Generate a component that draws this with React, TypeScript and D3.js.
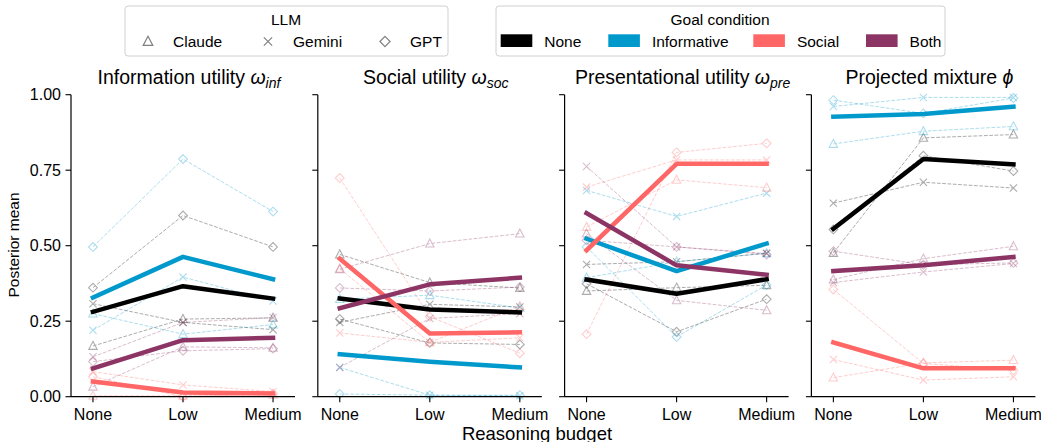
import React from "react";
import * as d3 from "d3";

const budgets = ["None", "Low", "Medium"];
const llms = ["Claude", "Gemini", "GPT"];
const goals = ["None", "Informative", "Social", "Both"];
const goalColors = ["#000000", "#0099cc", "#ff6666", "#8c3565"];
const yTicks = [0, 0.25, 0.5, 0.75, 1.0];

// rows: Claude, Gemini, GPT ; columns: None, Low, Medium budget
const infNone = [[0.168, 0.257, 0.261], [0.308, 0.246, 0.222], [0.361, 0.6, 0.496]];
const infInformative = [[0.275, 0.207, 0.239], [0.22, 0.396, 0.317], [0.496, 0.787, 0.613]];
const infSocial = [[0.003, 0.003, 0.006], [0.083, 0.039, 0.017], [0.066, 0.0, 0.01]];
const infBoth = [[0.033, 0.165, 0.162], [0.132, 0.246, 0.262], [0.116, 0.152, 0.159]];
const infMean = [[0.281, 0.366, 0.325], [0.328, 0.463, 0.389], [0.05, 0.014, 0.011], [0.094, 0.187, 0.195]];

const socNone = [[0.471, 0.378, 0.36], [0.246, 0.306, 0.297], [0.257, 0.178, 0.173]];
const socInformative = [[0.323, 0.336, 0.294], [0.097, 0.005, 0.003], [0.009, 0.005, 0.005]];
const socSocial = [[0.424, 0.18, 0.3], [0.211, 0.18, 0.195], [0.724, 0.265, 0.144]];
const socBoth = [[0.422, 0.507, 0.54], [0.097, 0.259, 0.275], [0.36, 0.35, 0.363]];
const socMean = [[0.325, 0.289, 0.279], [0.141, 0.116, 0.097], [0.457, 0.209, 0.213], [0.293, 0.372, 0.394]];

const preNone = [[0.35, 0.361, 0.369], [0.438, 0.447, 0.475], [0.374, 0.215, 0.323]];
const preInformative = [[0.394, 0.447, 0.475], [0.683, 0.597, 0.674], [0.496, 0.198, 0.37]];
const preSocial = [[0.562, 0.718, 0.692], [0.694, 0.784, 0.784], [0.207, 0.809, 0.839]];
const preBoth = [[0.54, 0.319, 0.286], [0.762, 0.496, 0.474], [0.518, 0.496, 0.471]];
const preMean = [[0.388, 0.341, 0.389], [0.523, 0.416, 0.507], [0.485, 0.771, 0.771], [0.608, 0.435, 0.404]];

const mixNone = [[0.476, 0.857, 0.868], [0.641, 0.71, 0.691], [0.554, 0.798, 0.747]];
const mixInformative = [[0.837, 0.879, 0.895], [0.961, 0.991, 0.991], [0.982, 0.938, 0.989]];
const mixSocial = [[0.063, 0.112, 0.121], [0.123, 0.055, 0.066], [0.355, 0.11, 0.088]];
const mixBoth = [[0.388, 0.457, 0.498], [0.378, 0.413, 0.441], [0.482, 0.437, 0.443]];
const mixMean = [[0.556, 0.787, 0.769], [0.927, 0.936, 0.96], [0.18, 0.094, 0.094], [0.416, 0.435, 0.463]];

const panels = [
  { title: "Information utility ", sym: "ω", sub: "inf", llm: [infNone, infInformative, infSocial, infBoth], mean: infMean },
  { title: "Social utility ", sym: "ω", sub: "soc", llm: [socNone, socInformative, socSocial, socBoth], mean: socMean },
  { title: "Presentational utility ", sym: "ω", sub: "pre", llm: [preNone, preInformative, preSocial, preBoth], mean: preMean },
  { title: "Projected mixture ", sym: "ϕ", sub: "", llm: [mixNone, mixInformative, mixSocial, mixBoth], mean: mixMean },
];

const W = 1041, H = 442;
const font = "'Liberation Sans', Arial, sans-serif";
const panelLeft = 71, panelStep = 246.8, panelW = 224;
const y = d3.scaleLinear().domain([0, 1]).range([396.7, 94.7]);

function marker(llm: string, s = 1) {
  if (llm === "Claude") return `M0,${-4.6 * s}L${4.2 * s},${3.4 * s}L${-4.2 * s},${3.4 * s}Z`;
  if (llm === "Gemini") { const r = 3.6 * s; return `M${-r},${-r}L${r},${r}M${-r},${r}L${r},${-r}`; }
  const r = 4.4 * s;
  return `M0,${-r}L${r},0L0,${r}L${-r},0Z`;
}

function Panel({ p, i }: { p: any; i: number }) {
  const left = panelLeft + i * panelStep;
  const x = d3.scalePoint().domain(budgets).range([left, left + panelW]).padding(0.244);
  const line = d3.line<number>().x((_, k) => x(budgets[k])!).y(v => y(v));
  return (
    <g>
      {/* thin per-LLM lines */}
      {p.llm.map((rows: number[][], g: number) =>
        rows.map((vals, m) => (
          <g key={`${g}-${m}`} opacity={0.32}>
            <path d={line(vals)!} fill="none" stroke={goalColors[g]} strokeWidth={1} strokeDasharray="3.7,1.6" />
            {vals.map((v, k) => (
              <path key={k} transform={`translate(${x(budgets[k])},${y(v)})`} d={marker(llms[m])}
                fill="none" stroke={goalColors[g]} strokeWidth={1.1} />
            ))}
          </g>
        ))
      )}
      {/* thick means */}
      {p.mean.map((vals: number[], g: number) => (
        <path key={g} d={line(vals)!} fill="none" stroke={goalColors[g]} strokeWidth={4.5}
          strokeLinecap="square" strokeLinejoin="round" />
      ))}
      {/* axes */}
      <line x1={left} x2={left + panelW} y1={y(0)} y2={y(0)} stroke="#000" strokeWidth={1.2} />
      <line x1={left} x2={left} y1={y(0)} y2={y(1)} stroke="#000" strokeWidth={1.2} />
      {yTicks.map(t => (
        <g key={t}>
          <line x1={left - 5.5} x2={left} y1={y(t)} y2={y(t)} stroke="#000" strokeWidth={1.1} />
          {i === 0 && (
            <text x={left - 10} y={y(t)} dy="0.36em" textAnchor="end" fontSize={16}>{t.toFixed(2)}</text>
          )}
        </g>
      ))}
      {budgets.map(b => (
        <g key={b}>
          <line x1={x(b)} x2={x(b)} y1={y(0)} y2={y(0) + 5.5} stroke="#000" strokeWidth={1.1} />
          <text x={x(b)} y={420} textAnchor="middle" fontSize={16}>{b}</text>
        </g>
      ))}
      <text x={left + panelW / 2 + 6} y={84} textAnchor="middle" fontSize={19.5}>
        {p.title}
        <tspan fontStyle="italic">{p.sym}</tspan>
        {p.sub && <tspan fontStyle="italic" fontSize={14} dy={4}>{p.sub}</tspan>}
      </text>
    </g>
  );
}

export default function App() {
  const llmX = [148, 268, 385];
  const goalX = [500.7, 608.3, 753.3, 866];
  return (
    <div style={{ position: "absolute", left: 0, top: 0 }}>
      <svg width={W} height={H} style={{ display: "block", fontFamily: font }}>
        <rect width={W} height={H} fill="#fff" />
        {panels.map((p, i) => <Panel key={i} p={p} i={i} />)}
        <text transform={`translate(19,245) rotate(-90)`} textAnchor="middle" fontSize={15.5}>Posterior mean</text>
        <text x={537} y={440} textAnchor="middle" fontSize={18.5}>Reasoning budget</text>

        {/* LLM legend */}
        <rect x={125} y={6} width={323} height={50} rx={3} fill="#fff" stroke="#d0d0d0" strokeWidth={1} />
        <text x={286} y={25} textAnchor="middle" fontSize={15.5}>LLM</text>
        {llms.map((l, k) => (
          <g key={l}>
            <path transform={`translate(${llmX[k]},${41.5})`} d={marker(l, 1.15)} fill="none" stroke="#808080" strokeWidth={1.2} />
            <text x={llmX[k] + 25} y={46.7} fontSize={15.5}>{l}</text>
          </g>
        ))}

        {/* Goal legend */}
        <rect x={496} y={6} width={449} height={50} rx={3} fill="#fff" stroke="#d0d0d0" strokeWidth={1} />
        <text x={720} y={25} textAnchor="middle" fontSize={15.5}>Goal condition</text>
        {goals.map((g, k) => (
          <g key={g}>
            <rect x={goalX[k]} y={34.3} width={31.6} height={12.7} fill={goalColors[k]} />
            <text x={goalX[k] + 43.6} y={46.7} fontSize={15.5}>{g}</text>
          </g>
        ))}
      </svg>
    </div>
  );
}
